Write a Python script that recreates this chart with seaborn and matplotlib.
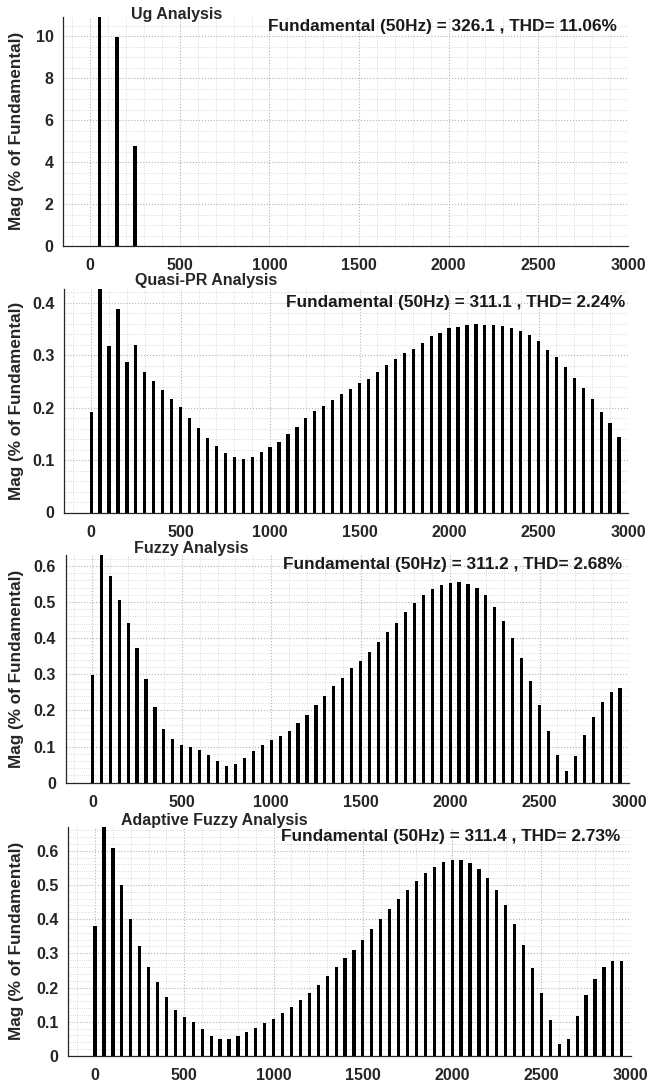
import matplotlib
matplotlib.use("Agg")
import matplotlib.pyplot as plt
from matplotlib.ticker import AutoMinorLocator, MultipleLocator, FormatStrFormatter
import seaborn as sns
import pandas as pd

sns.set_style("white")
plt.rcParams['font.family'] = ['Liberation Sans', 'DejaVu Sans']
plt.rcParams['font.weight'] = 'bold'

# Harmonic frequencies (Hz)
freqs = list(range(0, 3000, 50))

# Magnitudes (% of fundamental); fundamental (50 Hz) = 100 and is clipped by the axis
ug_vals = [0, 100, 0, 9.95, 0, 4.75] + [0] * 54

qpr_vals = [0.192, 100, 0.318, 0.387, 0.287, 0.320, 0.268, 0.250, 0.233, 0.217,
            0.201, 0.180, 0.161, 0.142, 0.127, 0.113, 0.106, 0.1025, 0.105, 0.115,
            0.124, 0.134, 0.149, 0.163, 0.180, 0.193, 0.2025, 0.214, 0.225, 0.235,
            0.247, 0.255, 0.268, 0.281, 0.293, 0.304, 0.312, 0.324, 0.337, 0.342,
            0.351, 0.353, 0.358, 0.359, 0.358, 0.358, 0.356, 0.352, 0.346, 0.339,
            0.326, 0.310, 0.296, 0.277, 0.257, 0.237, 0.216, 0.192, 0.170, 0.144]

fuzzy_vals = [0.298, 100, 0.573, 0.506, 0.443, 0.374, 0.288, 0.210, 0.149, 0.121,
              0.105, 0.100, 0.090, 0.078, 0.060, 0.046, 0.052, 0.068, 0.088, 0.105,
              0.118, 0.128, 0.143, 0.164, 0.187, 0.215, 0.240, 0.267, 0.291, 0.316,
              0.337, 0.361, 0.388, 0.417, 0.443, 0.473, 0.497, 0.518, 0.535, 0.548,
              0.553, 0.556, 0.551, 0.538, 0.518, 0.486, 0.447, 0.399, 0.344, 0.281,
              0.214, 0.144, 0.076, 0.031, 0.074, 0.132, 0.183, 0.223, 0.250, 0.263]

afuzzy_vals = [0.381, 100, 0.608, 0.501, 0.400, 0.320, 0.259, 0.215, 0.173, 0.135,
               0.115, 0.099, 0.078, 0.059, 0.051, 0.051, 0.059, 0.069, 0.081, 0.097,
               0.109, 0.126, 0.144, 0.165, 0.184, 0.208, 0.234, 0.260, 0.287, 0.311,
               0.339, 0.371, 0.400, 0.430, 0.458, 0.485, 0.511, 0.536, 0.552, 0.566,
               0.574, 0.572, 0.564, 0.547, 0.520, 0.484, 0.441, 0.385, 0.325, 0.256,
               0.183, 0.106, 0.034, 0.051, 0.117, 0.179, 0.226, 0.261, 0.279, 0.278]

titles = ["Ug Analysis", "Quasi-PR Analysis", "Fuzzy Analysis", "Adaptive Fuzzy Analysis"]
fundamentals = ["326.1", "311.1", "311.2", "311.4"]
thds = ["11.06", "2.24", "2.68", "2.73"]
ylims = [10.95, 0.426, 0.630, 0.670]
ysteps = [2, 0.1, 0.1, 0.1]
series = [ug_vals, qpr_vals, fuzzy_vals, afuzzy_vals]

W, H = 663, 1085
fig = plt.figure(figsize=(W / 100, H / 100), dpi=100)

# axes boxes in pixels: left, right, top, bottom
boxes = [(63.3, 628.0, 16.5, 246.0),
         (64.3, 628.0, 289.0, 512.5),
         (65.5, 629.0, 555.0, 782.7),
         (68.3, 630.7, 826.7, 1056.0)]
# title centres (x, y) and annotation right edge / centre y
title_pos = [(177, 14), (206, 280), (191, 548), (214, 820)]
ann_pos = [(617, 26), (625, 302), (622, 565), (620, 836)]

def fmt(v, pos):
    return f"{v:g}"

for i in range(4):
    l, r, t, b = boxes[i]
    ax = fig.add_axes([l / W, 1 - b / H, (r - l) / W, (b - t) / H])
    df = pd.DataFrame({"freq": freqs, "mag": series[i]})
    sns.barplot(data=df, x="freq", y="mag", native_scale=True, width=0.36,
                color="black", saturation=1, edgecolor="none", ax=ax)
    ax.set_xlim(-150, 3000)
    ax.set_ylim(0, ylims[i])
    ax.xaxis.set_major_locator(MultipleLocator(500))
    ax.yaxis.set_major_locator(MultipleLocator(ysteps[i]))
    ax.yaxis.set_major_formatter(plt.FuncFormatter(fmt))
    ax.xaxis.set_major_formatter(plt.FuncFormatter(fmt))
    ax.xaxis.set_minor_locator(AutoMinorLocator(5))
    ax.yaxis.set_minor_locator(AutoMinorLocator(4 if i == 0 else 5))
    ax.grid(True, which="major", linestyle=":", color="#b4b4b4", linewidth=0.8)
    ax.grid(True, which="minor", linestyle=":", color="#d0d0d0", linewidth=0.6)
    ax.set_axisbelow(True)
    for s in ["top", "right"]:
        ax.spines[s].set_visible(False)
    for s in ["left", "bottom"]:
        ax.spines[s].set_color("#262626")
        ax.spines[s].set_linewidth(0.9)
    ax.tick_params(axis="both", which="major", direction="in", length=4, width=0.8,
                   labelsize=11.5, colors="#262626", pad=7)
    ax.tick_params(axis="x", which="major", pad=9)
    ax.tick_params(which="minor", length=0)
    for lab in ax.get_xticklabels() + ax.get_yticklabels():
        lab.set_fontweight("bold")
    ax.set_xlabel("")
    ax.set_ylabel("Mag (% of Fundamental)", fontsize=12.3, fontweight="bold", color="#262626")
    ax.yaxis.set_label_coords((24.5 - l) / (r - l), 0.5)

    tx, ty = title_pos[i]
    fig.text(tx / W, 1 - ty / H, titles[i], ha="center", va="center",
             fontsize=11.5, fontweight="bold", color="#262626")
    axx, axy = ann_pos[i]
    fig.text(axx / W, 1 - axy / H,
             f"Fundamental (50Hz) = {fundamentals[i]} , THD= {thds[i]}%",
             ha="right", va="center", fontsize=12.4, fontweight="bold", color="#1a1a1a")

fig.savefig("out.png", dpi=100)
